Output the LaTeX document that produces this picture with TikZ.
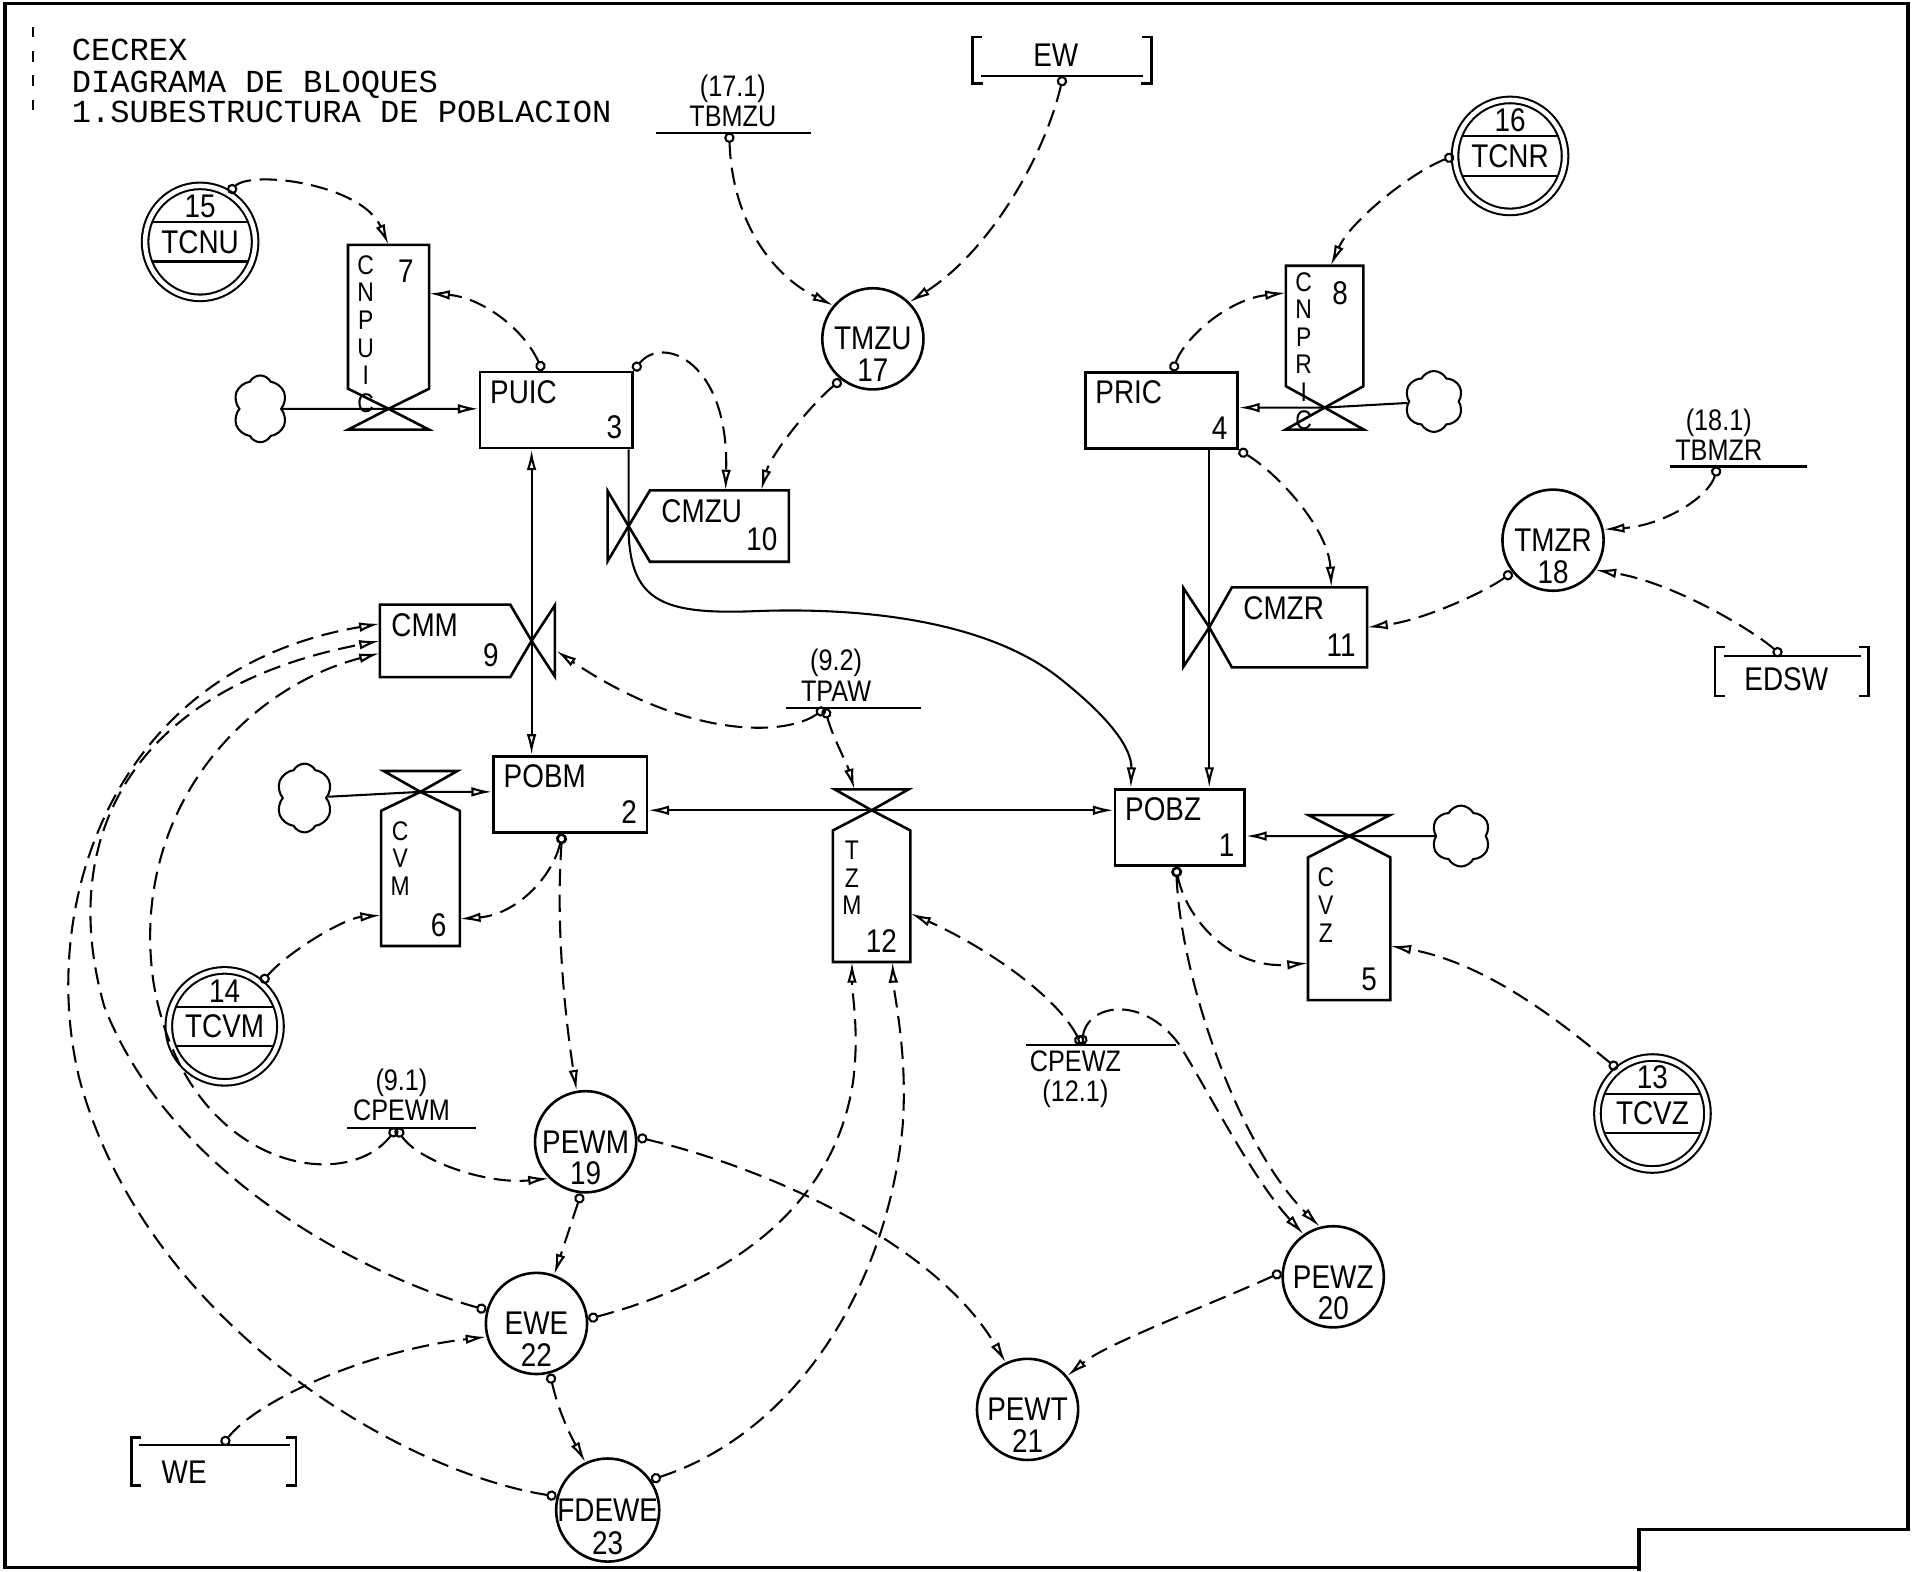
\documentclass[tikz,border=0pt]{standalone}
\usepackage{fontspec}
\newfontfamily\lett{Liberation Sans}[FakeStretch=0.85]
\newfontfamily\maq{Liberation Mono}
\usepackage{tikz}
\usetikzlibrary{arrows.meta,calc,shapes.geometric,shapes.symbols}

\begin{document}
\begin{tikzpicture}[x=0.0125cm, y=-0.0125cm,
  every node/.style={font=\lett\fontsize{9.5}{10}\selectfont},
  outl/.style={line width=0.75pt},
  nivel/.style={draw, line width=0.75pt, inner sep=0pt, minimum height=0.775cm},
  lvtxt/.style={anchor=north west, inner xsep=0.11cm, inner ysep=0.09cm},
  lvnum/.style={anchor=south east, inner xsep=0.11cm, inner ysep=0.1cm},
  tank/.style={inner sep=0pt},
  tkltr/.style={anchor=north west, inner xsep=0.09cm, inner ysep=0.1cm, align=center,
    font={\lett\fontsize{7.8}{8}\selectfont\lineskiplimit=-20pt}},
  tktop/.style={anchor=north east, inner sep=0.15cm},
  tkbot/.style={anchor=south east, inner xsep=0.13cm, inner ysep=0.09cm},
  aux/.style={circle, draw, line width=0.75pt, inner sep=0pt, minimum size=1.03cm},
  auxnum/.style={label distance=-0.33cm, inner sep=0pt},
  tabla/.style={ellipse, draw, double, line width=0.6pt, double distance=1.3pt, inner sep=0pt,
    minimum width=1.12cm, minimum height=1.14cm,
    path picture={
      \draw[line width=0.6pt] ([yshift=0.2cm]path picture bounding box.west) -- ([yshift=0.2cm]path picture bounding box.east);
      \draw[line width=0.6pt] ([yshift=-0.2cm]path picture bounding box.west) -- ([yshift=-0.2cm]path picture bounding box.east);}},
  tabnum/.style={label distance=-0.34cm, inner sep=0pt},
  param/.style={align=center, inner sep=0pt,
    font={\lett\fontsize{8.6}{8.7}\selectfont\lineskiplimit=-20pt}},
  cloudy/.style={cloud, draw, line width=0.6pt, cloud puffs=6, cloud puff arc=125, cloud ignores aspect, inner sep=0pt},
  ttl/.style={anchor=base west, inner sep=0pt, font=\maq\fontsize{9.3}{11}\selectfont},
  flow/.style={line width=0.6pt, -{Latex[open,length=6pt,width=2.8pt]}},
  flow2/.style={line width=0.6pt, {Latex[open,length=6pt,width=2.8pt]}-{Latex[open,length=6pt,width=2.8pt]}},
  info/.style={line width=0.6pt, dash pattern=on 5pt off 2.5pt,
    {Circle[open,length=3pt]}-{Latex[open,length=6pt,width=2.8pt]}}
]
\useasboundingbox (0,0) rectangle (1568,1280);
\draw[line width=1pt] (1335,1280) -- (1335,1246) -- (1554,1246) -- (1554,3) -- (4,3) -- (4,1277) -- (1335,1277);
\draw[line width=0.4pt, dash pattern=on 3pt off 4pt] (27,22) -- (27,100);

\node[ttl] (t1) at (58,49) {CECREX};
\node[ttl] (t2) at (58,75) {DIAGRAMA DE BLOQUES};
\node[ttl] (t3) at (58,100) {1.SUBESTRUCTURA DE POBLACION};

% niveles
\node[nivel, minimum width=1.55cm, label={[lvtxt]north west:PUIC}, label={[lvnum]south east:3}] (puic) at (453,334) {};
\node[nivel, minimum width=1.55cm, label={[lvtxt]north west:PRIC}, label={[lvnum]south east:4}] (pric) at (946,334.5) {};
\node[nivel, minimum width=1.5625cm, label={[lvtxt]north west:POBM}, label={[lvnum]south east:2}] (pobm) at (464.5,647) {};
\node[nivel, minimum width=1.32cm, label={[lvtxt]north west:POBZ}, label={[lvnum]south east:1}] (pobz) at (961,674) {};

% tasas
\node[tank, minimum width=0.8125cm, minimum height=1.45cm,
  label={[tkltr]north west:{C\\N\\P\\U\\I\\C}}, label={[tktop]north east:7}] (cnpuic) at (316.5,258) {};
\coordinate (vcnpuic) at (316.5,333);
\draw[outl] (cnpuic.south west) -- (cnpuic.north west) -- (cnpuic.north east) -- (cnpuic.south east) -- (vcnpuic) -- cycle;
\draw[outl] (vcnpuic) -- +(-33,17) -- +(33,17) -- cycle;

\node[tank, minimum width=0.775cm, minimum height=1.2125cm,
  label={[tkltr, inner ysep=0.06cm]north west:{C\\N\\P\\R\\I\\C}}, label={[tktop]north east:8}] (cnpric) at (1079,265.5) {};
\coordinate (vcnpric) at (1079,332);
\draw[outl] (cnpric.south west) -- (cnpric.north west) -- (cnpric.north east) -- (cnpric.south east) -- (vcnpric) -- cycle;
\draw[outl] (vcnpric) -- +(-32,18) -- +(32,18) -- cycle;

\node[tank, minimum width=0.7875cm, minimum height=1.3625cm,
  label={[tkltr]north west:{C\\V\\M}}, label={[tkbot]south east:6}] (cvm) at (342.5,715.5) {};
\coordinate (vcvm) at (342.5,645);
\draw[outl] (cvm.north west) -- (cvm.south west) -- (cvm.south east) -- (cvm.north east) -- (vcvm) -- cycle;
\draw[outl] (vcvm) -- +(-30,-17) -- +(30,-17) -- cycle;

\node[tank, minimum width=0.775cm, minimum height=1.325cm,
  label={[tkltr]north west:{T\\Z\\M}}, label={[tkbot]south east:12}] (tzm) at (710,730) {};
\coordinate (vtzm) at (710,660);
\draw[outl] (tzm.north west) -- (tzm.south west) -- (tzm.south east) -- (tzm.north east) -- (vtzm) -- cycle;
\draw[outl] (vtzm) -- +(-30,-17) -- +(30,-17) -- cycle;

\node[tank, minimum width=0.825cm, minimum height=1.4375cm,
  label={[tkltr]north west:{C\\V\\Z}}, label={[tkbot]south east:5}] (cvz) at (1099,756.5) {};
\coordinate (vcvz) at (1099,681);
\draw[outl] (cvz.north west) -- (cvz.south west) -- (cvz.south east) -- (cvz.north east) -- (vcvz) -- cycle;
\draw[outl] (vcvz) -- +(-33,-17) -- +(33,-17) -- cycle;

\node[tank, minimum width=1.3125cm, minimum height=0.725cm,
  label={[lvtxt]north west:CMM}, label={[lvnum]south east:9}] (cmm) at (362.5,522) {};
\coordinate (vcmm) at (433,522);
\draw[outl] (cmm.north east) -- (cmm.north west) -- (cmm.south west) -- (cmm.south east) -- (vcmm) -- cycle;
\draw[outl] (vcmm) -- +(19,-29) -- +(19,29) -- cycle;

\node[tank, minimum width=1.4cm, minimum height=0.7125cm,
  label={[lvtxt]north west:CMZU}, label={[lvnum]south east:10}] (cmzu) at (586,428.5) {};
\coordinate (vcmzu) at (512,428.5);
\draw[outl] (cmzu.north west) -- (cmzu.north east) -- (cmzu.south east) -- (cmzu.south west) -- (vcmzu) -- cycle;
\draw[outl] (vcmzu) -- +(-17,-28.5) -- +(-17,28.5) -- cycle;

\node[tank, minimum width=1.3625cm, minimum height=0.8cm,
  label={[lvtxt]north west:CMZR}, label={[lvnum]south east:11}] (cmzr) at (1058.5,511) {};
\coordinate (vcmzr) at (985,511);
\draw[outl] (cmzr.north west) -- (cmzr.north east) -- (cmzr.south east) -- (cmzr.south west) -- (vcmzr) -- cycle;
\draw[outl] (vcmzr) -- +(-21,-32) -- +(-21,32) -- cycle;

% auxiliares y tablas
\node[aux, label={[auxnum]below:17}] (tmzu) at (711,276) {TMZU};
\node[aux, label={[auxnum]below:18}] (tmzr) at (1265,440) {TMZR};
\node[aux, label={[auxnum]below:19}] (pewm) at (477,930) {PEWM};
\node[aux, label={[auxnum]below:20}] (pewz) at (1086,1040) {PEWZ};
\node[aux, label={[auxnum]below:21}] (pewt) at (837,1148) {PEWT};
\node[aux, label={[auxnum]below:22}] (ewe) at (437,1078) {EWE};
\node[aux, label={[auxnum]below:23}] (fdewe) at (495,1230) {FDEWE};

\node[tabla, label={[tabnum]above:15}] (tcnu) at (163,197) {TCNU};
\node[tabla, label={[tabnum]above:16}] (tcnr) at (1230,127) {TCNR};
\node[tabla, label={[tabnum]above:14}] (tcvm) at (183,836) {TCVM};
\node[tabla, label={[tabnum]above:13}] (tcvz) at (1346,907) {TCVZ};

\node[cloudy, minimum width=0.56cm, minimum height=0.68cm] (cl1) at (212,333) {};
\node[cloudy, minimum width=0.6cm, minimum height=0.62cm] (cl2) at (1168,327) {};
\node[cloudy, minimum width=0.58cm, minimum height=0.7cm] (cl3) at (248,650) {};
\node[cloudy, minimum width=0.6cm, minimum height=0.62cm] (cl4) at (1190,681) {};

% constantes y exogenas
\node[param] (tbmzu) at (597,82) {(17.1)\\TBMZU};
\draw[line width=0.6pt] (534,108) -- (661,108);
\coordinate (tbmzud) at (594,108);
\node[param] (tpaw) at (681,550) {(9.2)\\TPAW};
\draw[line width=0.6pt] (640,577) -- (750,577);
\coordinate (tpawd) at (672,577);
\node[param] (cpewm) at (327,892) {(9.1)\\CPEWM};
\draw[line width=0.6pt] (283,919) -- (388,919);
\coordinate (cpewmd) at (323,919);
\node[param] (cpewz) at (876,879) {CPEWZ\\(12.1)};
\draw[line width=0.6pt] (836,851) -- (958,851);
\coordinate (cpewzd) at (881,851);
\node[param] (tbmzr) at (1400,354) {(18.1)\\TBMZR};
\draw[line width=0.6pt] (1360,380) -- (1472,380);
\coordinate (tbmzrd) at (1399,380);

\node (ew) at (860,45) {EW};
\draw[outl] (800,30) -- (792,30) -- (792,68) -- (801,68);
\draw[outl] (930,30) -- (938,30) -- (938,68) -- (929,68);
\draw[line width=0.6pt] (799,62) -- (931,62);
\coordinate (ewd) at (866,62);
\node (edsw) at (1455,553) {EDSW};
\draw[outl] (1405,527) -- (1397,527) -- (1397,567) -- (1405,567);
\draw[outl] (1514,527) -- (1522,527) -- (1522,567) -- (1514,567);
\draw[line width=0.6pt] (1404,534) -- (1516,534);
\coordinate (edswd) at (1451,534);
\node (we) at (150,1199) {WE};
\draw[outl] (115,1171) -- (107,1171) -- (107,1210) -- (115,1210);
\draw[outl] (233,1171) -- (241,1171) -- (241,1210) -- (233,1210);
\draw[line width=0.6pt] (113,1177) -- (236,1177);
\coordinate (wed) at (181,1177);

\coordinate (puicd) at ($(puic.north)+(-11,0)$);
\coordinate (pricd) at ($(pric.north)+(9,0)$);
\coordinate (pobmd) at ($(pobm.south)+(-6.5,0)$);
\coordinate (pobzd) at ($(pobz.south)+(-3,0)$);

% flujos
\draw[flow] (cl1) -- (vcnpuic) -- (puic.west |- vcnpuic);
\draw[flow] (cl2) -- (vcnpric) -- (pric.east |- vcnpric);
\draw[flow] (cl3) -- (vcvm) -- (pobm.west |- vcvm);
\draw[flow] (cl4) -- (vcvz) -- (pobz.east |- vcvz);
\draw[flow2] (pobm.east |- vtzm) -- (vtzm) -- (pobz.west |- vtzm);
\draw[flow2] (puic.south -| vcmm) -- (vcmm) -- (pobm.north -| vcmm);
\draw[flow] (puic.south -| vcmzu) -- (vcmzu) .. controls (512,490) and (540,500) .. (610,498)
  .. controls (700,494) and (800,505) .. (860,550) .. controls (905,585) and (922,610) .. ($(pobz.north west)+(14,0)$);
\draw[flow] (pric.south -| vcmzr) -- (vcmzr) -- (pobz.north -| vcmzr);

% informacion
\draw[info] (tcnu.60) .. controls (205,138) and (295,150) .. (cnpuic.north);
\draw[info] (puicd) .. controls (425,265) and (390,242) .. ($(cnpuic.east)+(0,-19)$);
\draw[info] (puic.north east) .. controls (540,272) and (594,295) .. ($(cmzu.north)+(5,0)$);
\draw[info] (tbmzud) .. controls (596,175) and (625,222) .. (tmzu.140);
\draw[info] (ewd) .. controls (850,130) and (805,205) .. (tmzu.45);
\draw[info] (tmzu.232) .. controls (660,330) and (628,370) .. ($(cmzu.north)+(34,0)$);
\draw[info] (tcnr.180) .. controls (1150,140) and (1100,180) .. ($(cnpric.north)+(5,0)$);
\draw[info] (pricd) .. controls (965,275) and (1000,244) .. ($(cnpric.west)+(0,-27)$);
\draw[info] (pric.south east) .. controls (1040,385) and (1082,430) .. ($(cmzr.north)+(26,0)$);
\draw[info] (tbmzrd) .. controls (1392,405) and (1355,428) .. (tmzr.12);
\draw[info] (edswd) .. controls (1430,515) and (1365,475) .. (tmzr.-35);
\draw[info] (tmzr.218) .. controls (1210,482) and (1160,505) .. (cmzr.east);
\draw[info] (tpawd) .. controls (678,600) and (690,622) .. ($(vtzm)+(-14,-17)$);
\draw[info] (tpawd) .. controls (640,600) and (560,602) .. ($(vcmm)+(20,8)$);
\draw[info] (pobmd) .. controls (450,715) and (420,745) .. ($(cvm.east)+(0,33)$);
\draw[info] (tcvm.50) .. controls (235,775) and (280,748) .. ($(cvm.west)+(0,30)$);
\draw[info] (pobmd) .. controls (452,760) and (462,840) .. (pewm.100);
\draw[info] (cpewzd) .. controls (860,810) and (800,770) .. ($(tzm.east)+(0,14)$);
\draw[info] (cpewzd) .. controls (886,818) and (930,810) .. (960,850) .. controls (985,890) and (1020,960) .. (pewz.125);
\draw[info] (pobzd) .. controls (962,800) and (1010,935) .. (pewz.105);
\draw[info] (pobzd) .. controls (965,745) and (1000,790) .. ($(cvz.west)+(0,28)$);
\draw[info] (tcvz.128) .. controls (1280,840) and (1215,785) .. ($(cvz.east)+(0,14)$);
\draw[info] (cpewmd) .. controls (340,945) and (395,965) .. (pewm.225);
\draw[info] (cpewmd) .. controls (280,975) and (150,950) .. (125,800) .. controls (105,660) and (200,560) .. ($(cmm.west)+(0,10)$);
\draw[info] (ewe.165) .. controls (300,1040) and (140,960) .. (85,820) .. controls (45,680) and (110,560) .. (cmm.west);
\draw[info] (fdewe.165) .. controls (330,1200) and (120,1080) .. (65,880) .. controls (30,740) and (90,545) .. ($(cmm.west)+(0,-14)$);
\draw[info] (pewm.265) -- (ewe.70);
\draw[info] (pewm.5) .. controls (620,950) and (760,1010) .. (pewt.115);
\draw[info] (ewe.5) .. controls (590,1045) and (680,985) .. (695,880) .. controls (700,840) and (694,810) .. ($(tzm.south)+(-16,0)$);
\draw[info] (fdewe.35) .. controls (640,1170) and (720,1060) .. (735,920) .. controls (740,860) and (728,810) .. ($(tzm.south)+(17,0)$);
\draw[info] (pewz.175) .. controls (980,1065) and (900,1095) .. (pewt.40);
\draw[info] (wed) .. controls (210,1140) and (300,1100) .. (ewe.195);
\draw[info] (ewe.285) .. controls (455,1150) and (465,1170) .. (fdewe.115);
\end{tikzpicture}
\end{document}
